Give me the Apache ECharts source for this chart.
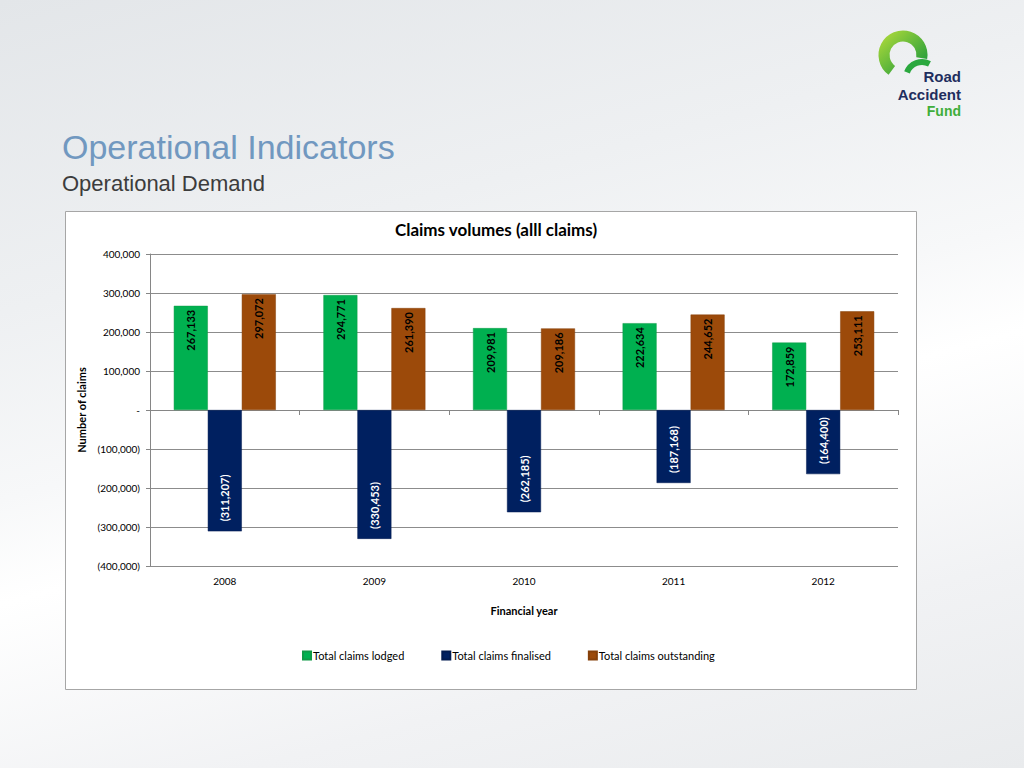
<!DOCTYPE html>
<html><head><meta charset="utf-8">
<script src="https://cdn.jsdelivr.net/npm/echarts@6/dist/echarts.min.js"></script>
<style>
html,body{margin:0;padding:0;width:1024px;height:768px;overflow:hidden;}
body{background:linear-gradient(165deg,#e3e6e9 0%,#eef0f2 30%,#f7f8f9 48%,#ffffff 58%,#f1f2f4 80%,#e9ebed 100%);}
#c{position:absolute;left:0;top:0;width:1024px;height:768px;}
</style></head>
<body><div id="c"></div>
<script>
const categories = ['2008','2009','2010','2011','2012'];
const lodged = [267133, 294771, 209981, 222634, 172859];
const finalised = [-311207, -330453, -262185, -187168, -164400];
const outstanding = [297072, 261390, 209186, 244652, 253111];
const seriesNames = ['Total claims lodged','Total claims finalised','Total claims outstanding'];
const yTicks = {min:-400000, max:400000, interval:100000};

const FONT = 'Lato, "DejaVu Sans", sans-serif';
const LOGO_FONT = '"Liberation Sans", Arial, sans-serif';
function fmt(v){
  if (v === 0) return '-';
  const s = Math.abs(v).toLocaleString('en-US');
  return v < 0 ? '(' + s + ')' : s;
}
const chart = echarts.init(document.getElementById('c'), null, {renderer:'svg'});
function posLabel(color){
  return {show:true, position:'insideTop', rotate:90, align:'right', verticalAlign:'middle', distance:4,
    color:color, fontFamily:FONT, fontSize:11, fontWeight:'bold', formatter:p=>fmt(p.value)};
}
function negLabel(color){
  return {show:true, position:'insideBottom', rotate:90, align:'left', verticalAlign:'middle', distance:10,
    color:color, fontFamily:FONT, fontSize:11, fontWeight:'bold', formatter:p=>fmt(p.value)};
}
chart.setOption({
  animation:false,
  graphic:[
    {type:'rect', z:-10, shape:{x:65.5,y:211.5,width:851,height:478}, style:{fill:'#ffffff', stroke:'#a6a6a6', lineWidth:1}},
    {type:'arc', shape:{cx:903, cy:55, r:19, startAngle:2.2, endAngle:6.45, clockwise:true},
      style:{stroke:new echarts.graphic.LinearGradient(0,0,1,1,[{offset:0,color:'#a5d63a'},{offset:1,color:'#1e9a3c'}]), lineWidth:11, fill:null}},
    {type:'arc', shape:{cx:922, cy:78, r:16, startAngle:3.5, endAngle:5.2, clockwise:true},
      style:{stroke:'#2aa83e', lineWidth:6, fill:null}},
    {type:'text', right:63, top:69, style:{text:'Road', font:'bold 15px ' + LOGO_FONT, fill:'#1f2e5e'}},
    {type:'text', right:63, top:86.5, style:{text:'Accident', font:'bold 15px ' + LOGO_FONT, fill:'#1f2e5e'}},
    {type:'text', right:63, top:104, style:{text:'Fund', font:'bold 14px ' + LOGO_FONT, fill:'#3fae3a'}}
  ],
  title:[
    {text:'Operational Indicators', left:57, top:125, textStyle:{fontFamily:'"Liberation Sans", Arial, sans-serif', fontSize:34, fontWeight:'normal', color:'#7198c0'}},
    {text:'Operational Demand', left:57, top:167, textStyle:{fontFamily:'"Liberation Sans", Arial, sans-serif', fontSize:22, fontWeight:'normal', color:'#3c3c3c'}},
    {text:'Claims volumes (alll claims)', left:491, textAlign:'center', top:216, textStyle:{fontFamily:FONT, fontSize:17, fontWeight:'bold', color:'#000'}}
  ],
  legend:{
    data:seriesNames, left:297, top:645, itemWidth:8, itemHeight:8, itemGap:37, icon:'rect',
    textStyle:{fontFamily:FONT, fontSize:11, color:'#000', padding:[0,0,0,-3]}
  },
  grid:{left:150, right:126, top:254, bottom:202},
  xAxis:[
    {type:'category', data:categories, position:'bottom', axisLine:{show:false, onZero:false}, axisTick:{show:false},
     axisLabel:{fontFamily:FONT, fontSize:10, color:'#000', margin:10},
     name:'Financial year', nameLocation:'middle', nameGap:39, nameTextStyle:{fontFamily:FONT, fontSize:11, fontWeight:'bold', color:'#000'}},
    {type:'category', data:categories, position:'bottom', axisLine:{show:true, onZero:true, lineStyle:{color:'#868686'}},
     axisTick:{show:true, length:5, interval:0, lineStyle:{color:'#868686'}}, axisLabel:{show:false}}
  ],
  yAxis:{
    type:'value', min:yTicks.min, max:yTicks.max, interval:yTicks.interval,
    axisLine:{show:true, lineStyle:{color:'#868686'}}, axisTick:{show:true, length:4, lineStyle:{color:'#868686'}},
    splitLine:{lineStyle:{color:'#8c8c8c'}},
    axisLabel:{fontFamily:FONT, fontSize:10, color:'#000', margin:10, formatter:v=>fmt(v)},
    name:'Number of claims', nameLocation:'middle', nameGap:50, nameTextStyle:{fontFamily:FONT, fontSize:11, fontWeight:'bold', color:'#000'}
  },
  series:[
    {name:seriesNames[0], type:'bar', data:lodged, barWidth:34, barGap:'0%', itemStyle:{color:'#00b050', borderColor:'#0e9a46', borderWidth:0.5}, label:posLabel('#000')},
    {name:seriesNames[1], type:'bar', data:finalised, barWidth:34, barGap:'0%', itemStyle:{color:'#002060', borderColor:'#001a50', borderWidth:0.5}, label:negLabel('#fff')},
    {name:seriesNames[2], type:'bar', data:outstanding, barWidth:34, barGap:'0%', itemStyle:{color:'#9c4a0a', borderColor:'#86400a', borderWidth:0.5}, label:posLabel('#000')}
  ]
});
</script></body></html>
